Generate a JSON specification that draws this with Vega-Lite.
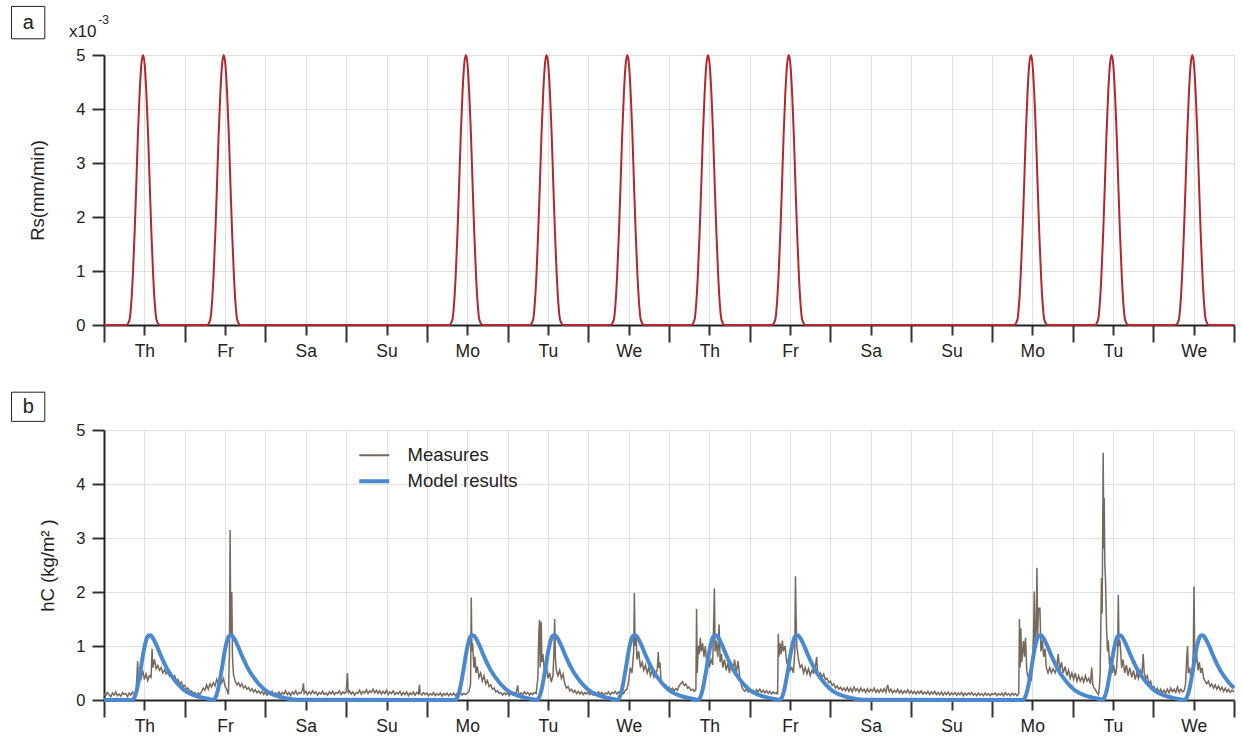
{
  "$schema": "https://vega.github.io/schema/vega-lite/v6.json",
  "padding": {"left": 11, "top": 5, "right": 5, "bottom": 5},
  "bounds": "flush",
  "spacing": 105,
  "config": {
    "font": "Liberation Sans",
    "view": {"stroke": null},
    "axis": {
      "gridColor": "#e0e0e0",
      "gridWidth": 1,
      "domainColor": "#222222",
      "domainWidth": 2,
      "tickColor": "#333333",
      "tickWidth": 2,
      "labelColor": "#222222",
      "titleColor": "#222222",
      "titleFontWeight": "normal",
      "titleFontSize": 18.5
    }
  },
  "resolve": {"scale": {"color": "independent"}, "legend": {"color": "independent"}},
  "datasets": {
    "rs": [
      {"t":0,"v":0},
      {"t":6.6,"v":0},{"t":7.6,"v":0.1},{"t":8.1,"v":0.4},{"t":8.6,"v":0.95},{"t":9.1,"v":1.7},{"t":9.6,"v":2.6},{"t":10.1,"v":3.55},{"t":10.6,"v":4.3},{"t":11.1,"v":4.82},{"t":11.6,"v":5},{"t":12.1,"v":4.82},{"t":12.6,"v":4.3},{"t":13.1,"v":3.55},{"t":13.6,"v":2.6},{"t":14.1,"v":1.7},{"t":14.6,"v":0.95},{"t":15.1,"v":0.4},{"t":15.6,"v":0.1},{"t":16.6,"v":0},
      {"t":30.6,"v":0},{"t":31.6,"v":0.1},{"t":32.1,"v":0.4},{"t":32.6,"v":0.95},{"t":33.1,"v":1.7},{"t":33.6,"v":2.6},{"t":34.1,"v":3.55},{"t":34.6,"v":4.3},{"t":35.1,"v":4.82},{"t":35.6,"v":5},{"t":36.1,"v":4.82},{"t":36.6,"v":4.3},{"t":37.1,"v":3.55},{"t":37.6,"v":2.6},{"t":38.1,"v":1.7},{"t":38.6,"v":0.95},{"t":39.1,"v":0.4},{"t":39.6,"v":0.1},{"t":40.6,"v":0},
      {"t":102.6,"v":0},{"t":103.6,"v":0.1},{"t":104.1,"v":0.4},{"t":104.6,"v":0.95},{"t":105.1,"v":1.7},{"t":105.6,"v":2.6},{"t":106.1,"v":3.55},{"t":106.6,"v":4.3},{"t":107.1,"v":4.82},{"t":107.6,"v":5},{"t":108.1,"v":4.82},{"t":108.6,"v":4.3},{"t":109.1,"v":3.55},{"t":109.6,"v":2.6},{"t":110.1,"v":1.7},{"t":110.6,"v":0.95},{"t":111.1,"v":0.4},{"t":111.6,"v":0.1},{"t":112.6,"v":0},
      {"t":126.6,"v":0},{"t":127.6,"v":0.1},{"t":128.1,"v":0.4},{"t":128.6,"v":0.95},{"t":129.1,"v":1.7},{"t":129.6,"v":2.6},{"t":130.1,"v":3.55},{"t":130.6,"v":4.3},{"t":131.1,"v":4.82},{"t":131.6,"v":5},{"t":132.1,"v":4.82},{"t":132.6,"v":4.3},{"t":133.1,"v":3.55},{"t":133.6,"v":2.6},{"t":134.1,"v":1.7},{"t":134.6,"v":0.95},{"t":135.1,"v":0.4},{"t":135.6,"v":0.1},{"t":136.6,"v":0},
      {"t":150.6,"v":0},{"t":151.6,"v":0.1},{"t":152.1,"v":0.4},{"t":152.6,"v":0.95},{"t":153.1,"v":1.7},{"t":153.6,"v":2.6},{"t":154.1,"v":3.55},{"t":154.6,"v":4.3},{"t":155.1,"v":4.82},{"t":155.6,"v":5},{"t":156.1,"v":4.82},{"t":156.6,"v":4.3},{"t":157.1,"v":3.55},{"t":157.6,"v":2.6},{"t":158.1,"v":1.7},{"t":158.6,"v":0.95},{"t":159.1,"v":0.4},{"t":159.6,"v":0.1},{"t":160.6,"v":0},
      {"t":174.6,"v":0},{"t":175.6,"v":0.1},{"t":176.1,"v":0.4},{"t":176.6,"v":0.95},{"t":177.1,"v":1.7},{"t":177.6,"v":2.6},{"t":178.1,"v":3.55},{"t":178.6,"v":4.3},{"t":179.1,"v":4.82},{"t":179.6,"v":5},{"t":180.1,"v":4.82},{"t":180.6,"v":4.3},{"t":181.1,"v":3.55},{"t":181.6,"v":2.6},{"t":182.1,"v":1.7},{"t":182.6,"v":0.95},{"t":183.1,"v":0.4},{"t":183.6,"v":0.1},{"t":184.6,"v":0},
      {"t":198.6,"v":0},{"t":199.6,"v":0.1},{"t":200.1,"v":0.4},{"t":200.6,"v":0.95},{"t":201.1,"v":1.7},{"t":201.6,"v":2.6},{"t":202.1,"v":3.55},{"t":202.6,"v":4.3},{"t":203.1,"v":4.82},{"t":203.6,"v":5},{"t":204.1,"v":4.82},{"t":204.6,"v":4.3},{"t":205.1,"v":3.55},{"t":205.6,"v":2.6},{"t":206.1,"v":1.7},{"t":206.6,"v":0.95},{"t":207.1,"v":0.4},{"t":207.6,"v":0.1},{"t":208.6,"v":0},
      {"t":270.6,"v":0},{"t":271.6,"v":0.1},{"t":272.1,"v":0.4},{"t":272.6,"v":0.95},{"t":273.1,"v":1.7},{"t":273.6,"v":2.6},{"t":274.1,"v":3.55},{"t":274.6,"v":4.3},{"t":275.1,"v":4.82},{"t":275.6,"v":5},{"t":276.1,"v":4.82},{"t":276.6,"v":4.3},{"t":277.1,"v":3.55},{"t":277.6,"v":2.6},{"t":278.1,"v":1.7},{"t":278.6,"v":0.95},{"t":279.1,"v":0.4},{"t":279.6,"v":0.1},{"t":280.6,"v":0},
      {"t":294.6,"v":0},{"t":295.6,"v":0.1},{"t":296.1,"v":0.4},{"t":296.6,"v":0.95},{"t":297.1,"v":1.7},{"t":297.6,"v":2.6},{"t":298.1,"v":3.55},{"t":298.6,"v":4.3},{"t":299.1,"v":4.82},{"t":299.6,"v":5},{"t":300.1,"v":4.82},{"t":300.6,"v":4.3},{"t":301.1,"v":3.55},{"t":301.6,"v":2.6},{"t":302.1,"v":1.7},{"t":302.6,"v":0.95},{"t":303.1,"v":0.4},{"t":303.6,"v":0.1},{"t":304.6,"v":0},
      {"t":318.6,"v":0},{"t":319.6,"v":0.1},{"t":320.1,"v":0.4},{"t":320.6,"v":0.95},{"t":321.1,"v":1.7},{"t":321.6,"v":2.6},{"t":322.1,"v":3.55},{"t":322.6,"v":4.3},{"t":323.1,"v":4.82},{"t":323.6,"v":5},{"t":324.1,"v":4.82},{"t":324.6,"v":4.3},{"t":325.1,"v":3.55},{"t":325.6,"v":2.6},{"t":326.1,"v":1.7},{"t":326.6,"v":0.95},{"t":327.1,"v":0.4},{"t":327.6,"v":0.1},{"t":328.6,"v":0},
      {"t":336,"v":0}
    ],
    "model": [
      {"t":0,"v":0},
      {"t":8.5,"v":0},{"t":9,"v":0.04},{"t":9.5,"v":0.12},{"t":10,"v":0.25},{"t":10.5,"v":0.42},{"t":11,"v":0.6},{"t":11.5,"v":0.8},{"t":12,"v":0.97},{"t":12.5,"v":1.1},{"t":13,"v":1.18},{"t":13.5,"v":1.2},{"t":14,"v":1.19},{"t":14.5,"v":1.15},{"t":15.5,"v":1.03},{"t":16.5,"v":0.88},{"t":17.5,"v":0.74},{"t":18.5,"v":0.61},{"t":19.5,"v":0.5},{"t":20.5,"v":0.41},{"t":21.5,"v":0.33},{"t":22.5,"v":0.26},{"t":23.5,"v":0.2},{"t":24.5,"v":0.155},{"t":25.5,"v":0.12},{"t":27.5,"v":0.07},{"t":29.5,"v":0.04},{"t":31.5,"v":0.015},
      {"t":32.6,"v":0},{"t":33.1,"v":0.04},{"t":33.6,"v":0.12},{"t":34.1,"v":0.25},{"t":34.6,"v":0.42},{"t":35.1,"v":0.6},{"t":35.6,"v":0.8},{"t":36.1,"v":0.97},{"t":36.6,"v":1.1},{"t":37.1,"v":1.18},{"t":37.6,"v":1.2},{"t":38.1,"v":1.19},{"t":38.6,"v":1.15},{"t":39.6,"v":1.03},{"t":40.6,"v":0.88},{"t":41.6,"v":0.74},{"t":42.6,"v":0.61},{"t":43.6,"v":0.5},{"t":44.6,"v":0.41},{"t":45.6,"v":0.33},{"t":46.6,"v":0.26},{"t":47.6,"v":0.2},{"t":48.6,"v":0.155},{"t":49.6,"v":0.12},{"t":51.6,"v":0.07},{"t":53.6,"v":0.04},{"t":55.6,"v":0.015},{"t":60,"v":0.005},
      {"t":104.5,"v":0},{"t":105,"v":0.04},{"t":105.5,"v":0.12},{"t":106,"v":0.25},{"t":106.5,"v":0.42},{"t":107,"v":0.6},{"t":107.5,"v":0.8},{"t":108,"v":0.97},{"t":108.5,"v":1.1},{"t":109,"v":1.18},{"t":109.5,"v":1.2},{"t":110,"v":1.19},{"t":110.5,"v":1.15},{"t":111.5,"v":1.03},{"t":112.5,"v":0.88},{"t":113.5,"v":0.74},{"t":114.5,"v":0.61},{"t":115.5,"v":0.5},{"t":116.5,"v":0.41},{"t":117.5,"v":0.33},{"t":118.5,"v":0.26},{"t":119.5,"v":0.2},{"t":120.5,"v":0.155},{"t":121.5,"v":0.12},{"t":123.5,"v":0.07},{"t":125.5,"v":0.04},{"t":127.5,"v":0.015},
      {"t":128.8,"v":0},{"t":129.3,"v":0.04},{"t":129.8,"v":0.12},{"t":130.3,"v":0.25},{"t":130.8,"v":0.42},{"t":131.3,"v":0.6},{"t":131.8,"v":0.8},{"t":132.3,"v":0.97},{"t":132.8,"v":1.1},{"t":133.3,"v":1.18},{"t":133.8,"v":1.2},{"t":134.3,"v":1.19},{"t":134.8,"v":1.15},{"t":135.8,"v":1.03},{"t":136.8,"v":0.88},{"t":137.8,"v":0.74},{"t":138.8,"v":0.61},{"t":139.8,"v":0.5},{"t":140.8,"v":0.41},{"t":141.8,"v":0.33},{"t":142.8,"v":0.26},{"t":143.8,"v":0.2},{"t":144.8,"v":0.155},{"t":145.8,"v":0.12},{"t":147.8,"v":0.07},{"t":149.8,"v":0.04},{"t":151.8,"v":0.015},
      {"t":152.7,"v":0},{"t":153.2,"v":0.04},{"t":153.7,"v":0.12},{"t":154.2,"v":0.25},{"t":154.7,"v":0.42},{"t":155.2,"v":0.6},{"t":155.7,"v":0.8},{"t":156.2,"v":0.97},{"t":156.7,"v":1.1},{"t":157.2,"v":1.18},{"t":157.7,"v":1.2},{"t":158.2,"v":1.19},{"t":158.7,"v":1.15},{"t":159.7,"v":1.03},{"t":160.7,"v":0.88},{"t":161.7,"v":0.74},{"t":162.7,"v":0.61},{"t":163.7,"v":0.5},{"t":164.7,"v":0.41},{"t":165.7,"v":0.33},{"t":166.7,"v":0.26},{"t":167.7,"v":0.2},{"t":168.7,"v":0.155},{"t":169.7,"v":0.12},{"t":171.7,"v":0.07},{"t":173.7,"v":0.04},{"t":175.7,"v":0.015},
      {"t":176.7,"v":0},{"t":177.2,"v":0.04},{"t":177.7,"v":0.12},{"t":178.2,"v":0.25},{"t":178.7,"v":0.42},{"t":179.2,"v":0.6},{"t":179.7,"v":0.8},{"t":180.2,"v":0.97},{"t":180.7,"v":1.1},{"t":181.2,"v":1.18},{"t":181.7,"v":1.2},{"t":182.2,"v":1.19},{"t":182.7,"v":1.15},{"t":183.7,"v":1.03},{"t":184.7,"v":0.88},{"t":185.7,"v":0.74},{"t":186.7,"v":0.61},{"t":187.7,"v":0.5},{"t":188.7,"v":0.41},{"t":189.7,"v":0.33},{"t":190.7,"v":0.26},{"t":191.7,"v":0.2},{"t":192.7,"v":0.155},{"t":193.7,"v":0.12},{"t":195.7,"v":0.07},{"t":197.7,"v":0.04},{"t":199.7,"v":0.015},
      {"t":201,"v":0},{"t":201.5,"v":0.04},{"t":202,"v":0.12},{"t":202.5,"v":0.25},{"t":203,"v":0.42},{"t":203.5,"v":0.6},{"t":204,"v":0.8},{"t":204.5,"v":0.97},{"t":205,"v":1.1},{"t":205.5,"v":1.18},{"t":206,"v":1.2},{"t":206.5,"v":1.19},{"t":207,"v":1.15},{"t":208,"v":1.03},{"t":209,"v":0.88},{"t":210,"v":0.74},{"t":211,"v":0.61},{"t":212,"v":0.5},{"t":213,"v":0.41},{"t":214,"v":0.33},{"t":215,"v":0.26},{"t":216,"v":0.2},{"t":217,"v":0.155},{"t":218,"v":0.12},{"t":220,"v":0.07},{"t":222,"v":0.04},{"t":224,"v":0.015},{"t":228,"v":0.005},
      {"t":273.3,"v":0},{"t":273.8,"v":0.04},{"t":274.3,"v":0.12},{"t":274.8,"v":0.25},{"t":275.3,"v":0.42},{"t":275.8,"v":0.6},{"t":276.3,"v":0.8},{"t":276.8,"v":0.97},{"t":277.3,"v":1.1},{"t":277.8,"v":1.18},{"t":278.3,"v":1.2},{"t":278.8,"v":1.19},{"t":279.3,"v":1.15},{"t":280.3,"v":1.03},{"t":281.3,"v":0.88},{"t":282.3,"v":0.74},{"t":283.3,"v":0.61},{"t":284.3,"v":0.5},{"t":285.3,"v":0.41},{"t":286.3,"v":0.33},{"t":287.3,"v":0.26},{"t":288.3,"v":0.2},{"t":289.3,"v":0.155},{"t":290.3,"v":0.12},{"t":292.3,"v":0.07},{"t":294.3,"v":0.04},{"t":296.3,"v":0.015},
      {"t":296.9,"v":0},{"t":297.4,"v":0.04},{"t":297.9,"v":0.12},{"t":298.4,"v":0.25},{"t":298.9,"v":0.42},{"t":299.4,"v":0.6},{"t":299.9,"v":0.8},{"t":300.4,"v":0.97},{"t":300.9,"v":1.1},{"t":301.4,"v":1.18},{"t":301.9,"v":1.2},{"t":302.4,"v":1.19},{"t":302.9,"v":1.15},{"t":303.9,"v":1.03},{"t":304.9,"v":0.88},{"t":305.9,"v":0.74},{"t":306.9,"v":0.61},{"t":307.9,"v":0.5},{"t":308.9,"v":0.41},{"t":309.9,"v":0.33},{"t":310.9,"v":0.26},{"t":311.9,"v":0.2},{"t":312.9,"v":0.155},{"t":313.9,"v":0.12},{"t":315.9,"v":0.07},{"t":317.9,"v":0.04},{"t":319.9,"v":0.015},
      {"t":321.4,"v":0},{"t":321.9,"v":0.04},{"t":322.4,"v":0.12},{"t":322.9,"v":0.25},{"t":323.4,"v":0.42},{"t":323.9,"v":0.6},{"t":324.4,"v":0.8},{"t":324.9,"v":0.97},{"t":325.4,"v":1.1},{"t":325.9,"v":1.18},{"t":326.4,"v":1.2},{"t":326.9,"v":1.19},{"t":327.4,"v":1.15},{"t":328.4,"v":1.03},{"t":329.4,"v":0.88},{"t":330.4,"v":0.74},{"t":331.4,"v":0.61},{"t":332.4,"v":0.5},{"t":333.4,"v":0.41},{"t":334.4,"v":0.33},{"t":335.4,"v":0.26},{"t":336,"v":0.22}
    ],
    "meas": [
      {"t":0,"v":0.12},{"t":0.5,"v":0.08},{"t":1,"v":0.14},{"t":1.5,"v":0.1},{"t":2,"v":0.06},{"t":2.5,"v":0.13},{"t":3,"v":0.09},{"t":3.5,"v":0.15},{"t":4,"v":0.08},{"t":4.5,"v":0.11},{"t":5,"v":0.07},{"t":5.5,"v":0.14},{"t":6,"v":0.1},{"t":6.5,"v":0.12},{"t":7,"v":0.06},{"t":7.5,"v":0.13},{"t":8,"v":0.09},{"t":8.5,"v":0.15},{"t":9,"v":0.1},{"t":9.5,"v":0.12},
      {"t":9.8,"v":0.45},{"t":10,"v":0.72},{"t":10.2,"v":0.35},{"t":10.5,"v":0.5},{"t":11,"v":0.4},{"t":11.5,"v":0.55},{"t":12,"v":0.38},{"t":12.5,"v":0.48},{"t":13,"v":0.36},{"t":13.5,"v":0.45},{"t":14,"v":0.42},{"t":14.3,"v":0.95},{"t":14.5,"v":0.6},{"t":15,"v":0.75},{"t":15.5,"v":0.58},{"t":16,"v":0.64},{"t":16.5,"v":0.55},{"t":17,"v":0.6},{"t":17.5,"v":0.5},{"t":18,"v":0.56},{"t":18.5,"v":0.48},{"t":19,"v":0.52},{"t":19.5,"v":0.44},{"t":20,"v":0.48},{"t":20.5,"v":0.4},{"t":21,"v":0.45},{"t":21.5,"v":0.36},{"t":22,"v":0.38},{"t":22.5,"v":0.3},{"t":23,"v":0.33},{"t":23.5,"v":0.25},{"t":24,"v":0.27},{"t":24.5,"v":0.2},{"t":25,"v":0.22},{"t":25.5,"v":0.15},{"t":26,"v":0.17},{"t":26.5,"v":0.12},{"t":27,"v":0.14},{"t":27.5,"v":0.09},{"t":28,"v":0.13},{"t":28.5,"v":0.1},{"t":29,"v":0.15},{"t":29.5,"v":0.22},{"t":30,"v":0.18},{"t":30.5,"v":0.28},{"t":31,"v":0.2},{"t":31.5,"v":0.3},{"t":32,"v":0.24},{"t":32.5,"v":0.32},{"t":33,"v":0.26},{"t":33.5,"v":0.38},{"t":34,"v":0.3},{"t":34.5,"v":0.42},{"t":35,"v":0.32},{"t":35.5,"v":0.4},{"t":36,"v":0.25},{"t":36.5,"v":0.2},{"t":37,"v":0.1},{"t":37.3,"v":0.9},{"t":37.5,"v":3.15},{"t":37.7,"v":1.2},{"t":38,"v":2.0},{"t":38.2,"v":0.8},{"t":38.5,"v":0.47},{"t":39,"v":0.35},{"t":39.5,"v":0.28},{"t":40,"v":0.32},{"t":40.5,"v":0.25},{"t":41,"v":0.3},{"t":41.5,"v":0.22},{"t":42,"v":0.26},{"t":42.5,"v":0.2},{"t":43,"v":0.23},{"t":43.5,"v":0.17},{"t":44,"v":0.21},{"t":44.5,"v":0.15},{"t":45,"v":0.19},{"t":45.5,"v":0.13},{"t":46,"v":0.17},{"t":46.5,"v":0.12},{"t":47,"v":0.16},{"t":47.5,"v":0.1},{"t":48,"v":0.15},
      {"t":48.5,"v":0.09},{"t":49,"v":0.14},{"t":49.5,"v":0.1},{"t":50,"v":0.16},{"t":50.5,"v":0.08},{"t":51,"v":0.13},{"t":51.5,"v":0.1},{"t":52,"v":0.15},{"t":52.5,"v":0.09},{"t":53,"v":0.14},{"t":53.5,"v":0.11},{"t":54,"v":0.17},{"t":54.5,"v":0.1},{"t":55,"v":0.14},{"t":55.5,"v":0.08},{"t":56,"v":0.15},{"t":56.5,"v":0.11},{"t":57,"v":0.17},{"t":57.5,"v":0.1},{"t":58,"v":0.14},{"t":58.5,"v":0.12},{"t":59,"v":0.18},{"t":59.3,"v":0.31},{"t":59.5,"v":0.12},{"t":60,"v":0.16},{"t":60.5,"v":0.1},{"t":61,"v":0.15},{"t":61.5,"v":0.11},{"t":62,"v":0.17},{"t":62.5,"v":0.12},{"t":63,"v":0.15},{"t":63.5,"v":0.09},{"t":64,"v":0.14},{"t":64.5,"v":0.11},{"t":65,"v":0.16},{"t":65.5,"v":0.1},{"t":66,"v":0.13},{"t":66.5,"v":0.09},{"t":67,"v":0.15},{"t":67.5,"v":0.11},{"t":68,"v":0.16},{"t":68.5,"v":0.1},{"t":69,"v":0.14},{"t":69.5,"v":0.12},{"t":70,"v":0.17},{"t":70.5,"v":0.1},{"t":71,"v":0.15},{"t":71.5,"v":0.12},{"t":72,"v":0.16},{"t":72.4,"v":0.5},{"t":72.6,"v":0.12},{"t":73,"v":0.17},{"t":73.5,"v":0.11},{"t":74,"v":0.15},{"t":74.5,"v":0.09},{"t":75,"v":0.14},{"t":75.5,"v":0.12},{"t":76,"v":0.18},{"t":76.5,"v":0.11},{"t":77,"v":0.16},{"t":77.5,"v":0.13},{"t":78,"v":0.19},{"t":78.5,"v":0.12},{"t":79,"v":0.17},{"t":79.5,"v":0.14},{"t":80,"v":0.2},{"t":80.5,"v":0.13},{"t":81,"v":0.18},{"t":81.5,"v":0.12},{"t":82,"v":0.17},{"t":82.5,"v":0.11},{"t":83,"v":0.16},{"t":83.5,"v":0.12},{"t":84,"v":0.18},{"t":84.5,"v":0.1},{"t":85,"v":0.15},{"t":85.5,"v":0.12},{"t":86,"v":0.17},{"t":86.5,"v":0.1},{"t":87,"v":0.14},{"t":87.5,"v":0.11},{"t":88,"v":0.16},{"t":88.5,"v":0.09},{"t":89,"v":0.14},{"t":89.5,"v":0.1},{"t":90,"v":0.15},{"t":90.5,"v":0.08},{"t":91,"v":0.13},{"t":91.5,"v":0.1},{"t":92,"v":0.15},{"t":92.5,"v":0.09},{"t":93,"v":0.14},{"t":93.5,"v":0.11},{"t":93.8,"v":0.28},{"t":94,"v":0.12},{"t":94.5,"v":0.09},{"t":95,"v":0.14},{"t":95.5,"v":0.1},{"t":96,"v":0.13},{"t":96.5,"v":0.08},{"t":97,"v":0.12},{"t":97.5,"v":0.09},{"t":98,"v":0.14},{"t":98.5,"v":0.08},{"t":99,"v":0.12},{"t":99.5,"v":0.09},{"t":100,"v":0.13},{"t":100.5,"v":0.07},{"t":101,"v":0.12},{"t":101.5,"v":0.09},{"t":102,"v":0.13},{"t":102.5,"v":0.08},{"t":103,"v":0.12},{"t":103.5,"v":0.09},{"t":104,"v":0.13},{"t":104.5,"v":0.08},{"t":105,"v":0.12},{"t":105.5,"v":0.1},{"t":106,"v":0.14},{"t":106.5,"v":0.09},{"t":107,"v":0.12},{"t":107.5,"v":0.1},{"t":108,"v":0.13},{"t":108.5,"v":0.15},
      {"t":109,"v":0.3},{"t":109.2,"v":1.9},{"t":109.4,"v":0.9},{"t":109.6,"v":1.05},{"t":110,"v":0.6},{"t":110.3,"v":0.8},{"t":110.6,"v":0.5},{"t":111,"v":0.62},{"t":111.5,"v":0.42},{"t":112,"v":0.5},{"t":112.5,"v":0.35},{"t":113,"v":0.45},{"t":113.5,"v":0.3},{"t":114,"v":0.36},{"t":114.5,"v":0.25},{"t":115,"v":0.28},{"t":115.5,"v":0.2},{"t":116,"v":0.22},{"t":116.5,"v":0.15},{"t":117,"v":0.17},{"t":117.5,"v":0.12},{"t":118,"v":0.14},{"t":118.5,"v":0.09},{"t":119,"v":0.13},{"t":119.5,"v":0.1},{"t":120,"v":0.14},{"t":120.5,"v":0.08},{"t":121,"v":0.13},{"t":121.5,"v":0.1},{"t":122,"v":0.14},{"t":122.5,"v":0.11},{"t":123,"v":0.27},{"t":123.3,"v":0.12},{"t":123.5,"v":0.09},{"t":124,"v":0.13},{"t":124.5,"v":0.1},{"t":125,"v":0.15},{"t":125.5,"v":0.11},{"t":126,"v":0.14},{"t":126.5,"v":0.09},{"t":127,"v":0.13},{"t":127.5,"v":0.1},{"t":128,"v":0.14},{"t":128.5,"v":0.12},
      {"t":129,"v":0.4},{"t":129.3,"v":1.25},{"t":129.5,"v":1.48},{"t":129.7,"v":0.6},{"t":130,"v":1.45},{"t":130.2,"v":0.7},{"t":130.5,"v":0.85},{"t":131,"v":0.5},{"t":131.5,"v":0.65},{"t":132,"v":0.4},{"t":132.5,"v":0.5},{"t":133,"v":0.33},{"t":133.5,"v":0.45},{"t":133.8,"v":0.9},{"t":134,"v":1.5},{"t":134.2,"v":0.8},{"t":134.5,"v":0.55},{"t":135,"v":0.45},{"t":135.5,"v":0.55},{"t":136,"v":0.4},{"t":136.5,"v":0.48},{"t":137,"v":0.3},{"t":137.5,"v":0.22},{"t":138,"v":0.25},{"t":138.5,"v":0.17},{"t":139,"v":0.2},{"t":139.5,"v":0.14},{"t":140,"v":0.18},{"t":140.5,"v":0.12},{"t":141,"v":0.16},{"t":141.5,"v":0.11},{"t":142,"v":0.15},{"t":142.5,"v":0.1},{"t":143,"v":0.14},{"t":143.5,"v":0.11},{"t":144,"v":0.15},{"t":144.5,"v":0.1},{"t":145,"v":0.13},{"t":145.5,"v":0.09},{"t":146,"v":0.14},{"t":146.5,"v":0.1},{"t":147,"v":0.15},{"t":147.5,"v":0.11},{"t":148,"v":0.14},{"t":148.5,"v":0.09},{"t":149,"v":0.13},{"t":149.5,"v":0.11},{"t":150,"v":0.15},{"t":150.5,"v":0.1},{"t":151,"v":0.14},{"t":151.5,"v":0.12},{"t":152,"v":0.16},{"t":152.5,"v":0.11},{"t":153,"v":0.15},{"t":153.5,"v":0.12},{"t":154,"v":0.16},{"t":154.5,"v":0.12},{"t":155,"v":0.18},{"t":155.5,"v":0.2},
      {"t":156,"v":0.35},{"t":156.5,"v":0.6},{"t":157,"v":0.5},{"t":157.5,"v":0.9},{"t":157.7,"v":1.98},{"t":157.9,"v":1.0},{"t":158.2,"v":1.15},{"t":158.5,"v":0.75},{"t":159,"v":0.9},{"t":159.5,"v":0.6},{"t":160,"v":0.7},{"t":160.5,"v":0.55},{"t":161,"v":0.65},{"t":161.5,"v":0.5},{"t":162,"v":0.6},{"t":162.5,"v":0.45},{"t":163,"v":0.55},{"t":163.5,"v":0.42},{"t":164,"v":0.5},{"t":164.5,"v":0.55},{"t":164.8,"v":0.89},{"t":165,"v":0.6},{"t":165.3,"v":0.7},{"t":165.6,"v":0.4},{"t":166,"v":0.3},{"t":166.5,"v":0.25},{"t":167,"v":0.28},{"t":167.5,"v":0.2},{"t":168,"v":0.24},{"t":168.5,"v":0.18},{"t":169,"v":0.22},{"t":169.5,"v":0.17},{"t":170,"v":0.21},{"t":170.5,"v":0.18},{"t":171,"v":0.26},{"t":171.5,"v":0.3},{"t":172,"v":0.34},{"t":172.5,"v":0.27},{"t":173,"v":0.3},{"t":173.5,"v":0.22},{"t":174,"v":0.24},{"t":174.5,"v":0.18},{"t":175,"v":0.2},{"t":175.5,"v":0.16},{"t":176,"v":0.19},
      {"t":176.2,"v":1.69},{"t":176.4,"v":0.5},{"t":176.7,"v":1.0},{"t":177,"v":0.85},{"t":177.3,"v":1.15},{"t":177.6,"v":0.9},{"t":178,"v":1.05},{"t":178.4,"v":0.8},{"t":178.8,"v":1.0},{"t":179.2,"v":0.7},{"t":179.6,"v":0.85},{"t":180,"v":0.6},{"t":180.5,"v":0.75},{"t":181,"v":0.65},{"t":181.5,"v":2.07},{"t":181.7,"v":0.9},{"t":182,"v":1.1},{"t":182.5,"v":0.8},{"t":182.9,"v":1.4},{"t":183.2,"v":0.7},{"t":183.6,"v":0.85},{"t":184,"v":0.6},{"t":184.5,"v":0.75},{"t":185,"v":0.55},{"t":185.5,"v":0.68},{"t":186,"v":0.5},{"t":186.5,"v":0.7},{"t":187,"v":0.55},{"t":187.5,"v":0.75},{"t":188,"v":0.5},{"t":188.5,"v":0.72},{"t":189,"v":0.45},{"t":189.6,"v":0.25},{"t":190,"v":0.2},{"t":190.5,"v":0.16},{"t":191,"v":0.2},{"t":191.5,"v":0.15},{"t":192,"v":0.19},{"t":192.5,"v":0.14},{"t":193,"v":0.18},{"t":193.5,"v":0.13},{"t":194,"v":0.19},{"t":194.5,"v":0.15},{"t":195,"v":0.2},{"t":195.5,"v":0.14},{"t":196,"v":0.18},{"t":196.5,"v":0.13},{"t":197,"v":0.17},{"t":197.5,"v":0.12},{"t":198,"v":0.16},{"t":198.5,"v":0.11},{"t":199,"v":0.15},{"t":199.5,"v":0.12},{"t":200,"v":0.14},{"t":200.3,"v":0.1},
      {"t":200.5,"v":1.22},{"t":200.7,"v":0.8},{"t":201,"v":1.05},{"t":201.3,"v":0.85},{"t":201.7,"v":1.1},{"t":202,"v":0.9},{"t":202.5,"v":1.0},{"t":203,"v":0.7},{"t":203.5,"v":0.75},{"t":204,"v":0.55},{"t":204.5,"v":0.6},{"t":205,"v":0.5},{"t":205.4,"v":0.9},{"t":205.6,"v":2.29},{"t":205.8,"v":1.5},{"t":206,"v":1.0},{"t":206.5,"v":0.75},{"t":207,"v":0.6},{"t":207.5,"v":0.65},{"t":208,"v":0.5},{"t":208.5,"v":0.6},{"t":209,"v":0.48},{"t":209.5,"v":0.58},{"t":210,"v":0.45},{"t":210.5,"v":0.55},{"t":211,"v":0.5},{"t":211.5,"v":0.6},{"t":211.9,"v":0.8},{"t":212.2,"v":0.5},{"t":212.5,"v":0.45},{"t":213,"v":0.5},{"t":213.5,"v":0.42},{"t":214,"v":0.48},{"t":214.5,"v":0.38},{"t":215,"v":0.4},{"t":215.5,"v":0.32},{"t":216,"v":0.35},{"t":216.5,"v":0.27},{"t":217,"v":0.3},{"t":217.5,"v":0.22},{"t":218,"v":0.26},{"t":218.5,"v":0.2},{"t":219,"v":0.24},{"t":219.5,"v":0.18},{"t":220,"v":0.22},
      {"t":220.5,"v":0.17},{"t":221,"v":0.23},{"t":221.5,"v":0.16},{"t":222,"v":0.22},{"t":222.5,"v":0.15},{"t":223,"v":0.24},{"t":223.5,"v":0.17},{"t":224,"v":0.21},{"t":224.5,"v":0.15},{"t":225,"v":0.22},{"t":225.5,"v":0.16},{"t":226,"v":0.2},{"t":226.5,"v":0.14},{"t":227,"v":0.21},{"t":227.5,"v":0.15},{"t":228,"v":0.2},{"t":228.5,"v":0.16},{"t":229,"v":0.22},{"t":229.5,"v":0.14},{"t":230,"v":0.19},{"t":230.5,"v":0.14},{"t":231,"v":0.2},{"t":231.5,"v":0.15},{"t":232,"v":0.21},{"t":232.5,"v":0.14},{"t":233,"v":0.28},{"t":233.5,"v":0.15},{"t":234,"v":0.2},{"t":234.5,"v":0.13},{"t":235,"v":0.18},{"t":235.5,"v":0.14},{"t":236,"v":0.2},{"t":236.5,"v":0.13},{"t":237,"v":0.18},{"t":237.5,"v":0.12},{"t":238,"v":0.17},{"t":238.5,"v":0.13},{"t":239,"v":0.19},{"t":239.5,"v":0.12},{"t":240,"v":0.17},{"t":240.5,"v":0.12},{"t":241,"v":0.16},{"t":241.5,"v":0.11},{"t":242,"v":0.16},{"t":242.5,"v":0.12},{"t":243,"v":0.17},{"t":243.5,"v":0.11},{"t":244,"v":0.15},{"t":244.5,"v":0.11},{"t":245,"v":0.16},{"t":245.5,"v":0.1},{"t":246,"v":0.15},{"t":246.5,"v":0.11},{"t":247,"v":0.16},{"t":247.5,"v":0.1},{"t":248,"v":0.14},{"t":248.5,"v":0.1},{"t":249,"v":0.15},{"t":249.5,"v":0.09},{"t":250,"v":0.14},{"t":250.5,"v":0.1},{"t":251,"v":0.15},{"t":251.5,"v":0.09},{"t":252,"v":0.13},{"t":252.5,"v":0.1},{"t":253,"v":0.14},{"t":253.5,"v":0.09},{"t":254,"v":0.13},{"t":254.5,"v":0.1},{"t":255,"v":0.14},{"t":255.5,"v":0.08},{"t":256,"v":0.13},{"t":256.5,"v":0.09},{"t":257,"v":0.13},{"t":257.5,"v":0.1},{"t":258,"v":0.14},{"t":258.5,"v":0.09},{"t":259,"v":0.12},{"t":259.5,"v":0.08},{"t":260,"v":0.13},{"t":260.5,"v":0.09},{"t":261,"v":0.12},{"t":261.5,"v":0.08},{"t":262,"v":0.13},{"t":262.5,"v":0.09},{"t":263,"v":0.12},{"t":263.5,"v":0.08},{"t":264,"v":0.12},{"t":264.5,"v":0.1},{"t":265,"v":0.13},{"t":265.5,"v":0.08},{"t":266,"v":0.12},{"t":266.5,"v":0.09},{"t":267,"v":0.13},{"t":267.5,"v":0.08},{"t":268,"v":0.14},{"t":268.5,"v":0.09},{"t":269,"v":0.12},{"t":269.5,"v":0.08},{"t":270,"v":0.13},{"t":270.5,"v":0.09},{"t":271,"v":0.12},{"t":271.5,"v":0.08},{"t":272,"v":0.12},
      {"t":272.2,"v":1.5},{"t":272.4,"v":0.6},{"t":272.6,"v":1.33},{"t":272.9,"v":0.7},{"t":273.4,"v":1.09},{"t":273.7,"v":0.8},{"t":274,"v":1.15},{"t":274.4,"v":0.53},{"t":274.9,"v":0.4},{"t":275.3,"v":0.5},{"t":275.7,"v":0.35},{"t":276,"v":0.6},{"t":276.4,"v":1.2},{"t":276.6,"v":2.01},{"t":276.9,"v":1.0},{"t":277.2,"v":1.4},{"t":277.4,"v":2.45},{"t":277.6,"v":1.2},{"t":277.9,"v":1.7},{"t":278.3,"v":1.7},{"t":278.6,"v":0.9},{"t":279,"v":1.1},{"t":279.4,"v":0.8},{"t":279.8,"v":0.95},{"t":280.2,"v":0.6},{"t":280.7,"v":0.5},{"t":281.2,"v":0.6},{"t":281.7,"v":0.5},{"t":282.2,"v":0.58},{"t":282.8,"v":0.5},{"t":283.3,"v":0.6},{"t":283.7,"v":0.85},{"t":284.2,"v":0.55},{"t":284.7,"v":0.7},{"t":285.2,"v":0.5},{"t":285.8,"v":0.62},{"t":286.3,"v":0.45},{"t":286.8,"v":0.55},{"t":287.3,"v":0.4},{"t":287.8,"v":0.5},{"t":288.3,"v":0.38},{"t":288.8,"v":0.5},{"t":289.3,"v":0.35},{"t":289.8,"v":0.45},{"t":290.3,"v":0.35},{"t":290.8,"v":0.42},{"t":291.3,"v":0.33},{"t":291.8,"v":0.45},{"t":292.3,"v":0.35},{"t":292.8,"v":0.4},{"t":293.3,"v":0.3},{"t":293.7,"v":0.6},{"t":294,"v":0.3},{"t":294.4,"v":0.22},{"t":294.7,"v":0.2},{"t":295.2,"v":0.14},{"t":295.7,"v":0.1},
      {"t":296,"v":0.25},{"t":296.2,"v":0.5},{"t":296.6,"v":2.26},{"t":296.8,"v":1.6},{"t":297.1,"v":4.58},{"t":297.3,"v":2.8},{"t":297.4,"v":3.74},{"t":297.6,"v":2.5},{"t":297.8,"v":2.2},{"t":298.1,"v":1.33},{"t":298.4,"v":0.9},{"t":298.6,"v":1.1},{"t":299,"v":0.65},{"t":299.4,"v":0.8},{"t":299.8,"v":0.5},{"t":300.2,"v":0.65},{"t":300.7,"v":0.45},{"t":301.1,"v":0.6},{"t":301.4,"v":0.9},{"t":301.6,"v":1.95},{"t":301.8,"v":1.0},{"t":302.1,"v":1.1},{"t":302.6,"v":0.6},{"t":303,"v":0.75},{"t":303.5,"v":0.5},{"t":304,"v":0.65},{"t":304.5,"v":0.45},{"t":305,"v":0.6},{"t":305.6,"v":0.42},{"t":306.1,"v":0.55},{"t":306.6,"v":0.38},{"t":307.1,"v":0.5},{"t":307.6,"v":0.4},{"t":308.1,"v":0.55},{"t":308.6,"v":0.45},{"t":309,"v":0.85},{"t":309.3,"v":0.5},{"t":309.8,"v":0.4},{"t":310.2,"v":0.45},{"t":310.7,"v":0.3},{"t":311.2,"v":0.35},{"t":311.7,"v":0.22},{"t":312.2,"v":0.25},{"t":312.7,"v":0.17},{"t":313.2,"v":0.22},{"t":313.7,"v":0.14},{"t":314.2,"v":0.2},{"t":314.7,"v":0.13},{"t":315.2,"v":0.18},{"t":315.7,"v":0.12},{"t":316.2,"v":0.2},{"t":316.7,"v":0.13},{"t":317.2,"v":0.22},{"t":317.7,"v":0.15},{"t":318.2,"v":0.2},{"t":318.7,"v":0.14},{"t":319.2,"v":0.24},{"t":319.7,"v":0.14},{"t":320.2,"v":0.2},{"t":320.7,"v":0.15},{"t":321.2,"v":0.18},
      {"t":321.6,"v":0.3},{"t":322,"v":0.84},{"t":322.2,"v":1.0},{"t":322.4,"v":0.5},{"t":322.8,"v":0.6},{"t":323.2,"v":0.4},{"t":323.6,"v":0.5},{"t":323.9,"v":0.9},{"t":324.1,"v":2.1},{"t":324.3,"v":1.0},{"t":324.6,"v":0.7},{"t":324.9,"v":0.85},{"t":325.3,"v":0.55},{"t":325.7,"v":0.7},{"t":326.1,"v":0.5},{"t":326.5,"v":0.6},{"t":327,"v":0.4},{"t":327.4,"v":0.35},{"t":327.9,"v":0.3},{"t":328.4,"v":0.35},{"t":328.9,"v":0.25},{"t":329.4,"v":0.3},{"t":329.9,"v":0.22},{"t":330.4,"v":0.28},{"t":330.9,"v":0.2},{"t":331.4,"v":0.26},{"t":331.9,"v":0.18},{"t":332.4,"v":0.24},{"t":332.9,"v":0.16},{"t":333.4,"v":0.22},{"t":333.9,"v":0.15},{"t":334.4,"v":0.2},{"t":334.9,"v":0.14},{"t":335.4,"v":0.18},{"t":336,"v":0.15}
    ]
  },
  "vconcat": [
    {
      "width": 1130,
      "height": 270,
      "layer": [
        {
          "data": {"name": "rs"},
          "mark": {"type": "line", "color": "#b3262c", "strokeWidth": 2, "interpolate": "monotone"},
          "encoding": {
            "x": {
              "field": "t", "type": "quantitative",
              "scale": {"domain": [0, 336], "nice": false, "zero": false},
              "axis": {
                "title": null,
                "values": [0,12,24,36,48,60,72,84,96,108,120,132,144,156,168,180,192,204,216,228,240,252,264,276,288,300,312,324,336],
                "labelExpr": "datum.value % 24 == 12 ? ['Th','Fr','Sa','Su','Mo','Tu','We','Th','Fr','Sa','Su','Mo','Tu','We'][floor(datum.value / 24)] : ''",
                "tickSize": {"condition": {"test": "datum.value % 24 == 0", "value": 17}, "value": 10},
                "labelFontSize": 17.5,
                "labelPadding": 7,
                "labelOverlap": false,
                "labelFlush": false,
                "grid": true
              }
            },
            "y": {
              "field": "v", "type": "quantitative",
              "scale": {"domain": [0, 5], "nice": false},
              "axis": {
                "title": "Rs(mm/min)",
                "titlePadding": 28,
                "values": [0,0.5,1,1.5,2,2.5,3,3.5,4,4.5,5],
                "labelExpr": "datum.value % 1 == 0 ? datum.label : ''",
                "tickSize": 12,
                "labelPadding": 7,
                "labelFontSize": 16.5,
                "labelOverlap": false,
                "labelFlush": false,
                "grid": true
              }
            }
          }
        },
        {
          "data": {"values": [{}]},
          "mark": {"type": "rect", "fill": "white", "stroke": "#222222", "strokeWidth": 1},
          "encoding": {
            "x": {"datum": -27.5, "type": "quantitative"},
            "x2": {"datum": -17.6},
            "y": {"datum": 5.9, "type": "quantitative"},
            "y2": {"datum": 5.3}
          }
        },
        {
          "data": {"values": [{}]},
          "mark": {"type": "text", "fontSize": 20, "color": "#222222", "align": "center", "baseline": "middle"},
          "encoding": {
            "x": {"datum": -22.5, "type": "quantitative"},
            "y": {"datum": 5.6, "type": "quantitative"},
            "text": {"value": "a"}
          }
        },
        {
          "data": {"values": [{}]},
          "mark": {"type": "text", "fontSize": 17, "color": "#222222", "align": "center", "baseline": "middle"},
          "encoding": {
            "x": {"datum": -6.3, "type": "quantitative"},
            "y": {"datum": 5.42, "type": "quantitative"},
            "text": {"value": "x10"}
          }
        },
        {
          "data": {"values": [{}]},
          "mark": {"type": "text", "fontSize": 12, "color": "#222222", "align": "center", "baseline": "middle"},
          "encoding": {
            "x": {"datum": -0.1, "type": "quantitative"},
            "y": {"datum": 5.64, "type": "quantitative"},
            "text": {"value": "-3"}
          }
        }
      ]
    },
    {
      "width": 1130,
      "height": 270,
      "layer": [
        {
          "data": {"name": "meas"},
          "mark": {"type": "line", "strokeWidth": 1.5},
          "encoding": {
            "x": {
              "field": "t", "type": "quantitative",
              "scale": {"domain": [0, 336], "nice": false, "zero": false},
              "axis": {
                "title": null,
                "values": [0,12,24,36,48,60,72,84,96,108,120,132,144,156,168,180,192,204,216,228,240,252,264,276,288,300,312,324,336],
                "labelExpr": "datum.value % 24 == 12 ? ['Th','Fr','Sa','Su','Mo','Tu','We','Th','Fr','Sa','Su','Mo','Tu','We'][floor(datum.value / 24)] : ''",
                "tickSize": {"condition": {"test": "datum.value % 24 == 0", "value": 17}, "value": 10},
                "labelFontSize": 17.5,
                "labelPadding": 7,
                "labelOverlap": false,
                "labelFlush": false,
                "grid": true
              }
            },
            "y": {
              "field": "v", "type": "quantitative",
              "scale": {"domain": [0, 5], "nice": false},
              "axis": {
                "title": "hC (kg/m² )",
                "titlePadding": 18,
                "values": [0,0.5,1,1.5,2,2.5,3,3.5,4,4.5,5],
                "labelExpr": "datum.value % 1 == 0 ? datum.label : ''",
                "tickSize": 12,
                "labelPadding": 7,
                "labelFontSize": 16.5,
                "labelOverlap": false,
                "labelFlush": false,
                "grid": true
              }
            },
            "color": {
              "datum": "Measures",
              "type": "nominal",
              "scale": {"domain": ["Measures", "Model results"], "range": ["#76695b", "#4a89cf"]},
              "legend": {
                "title": null,
                "orient": "none",
                "legendX": 261,
                "legendY": 16,
                "symbolType": "stroke",
                "symbolSize": 900,
                "labelFontSize": 18.5,
                "labelOffset": 24,
                "labelColor": "#222222",
                "rowPadding": 7,
                "encode": {"symbols": {"update": {"strokeWidth": {"signal": "datum.value === 'Measures' ? 2 : 4"}}}}
              }
            }
          }
        },
        {
          "data": {"name": "model"},
          "mark": {"type": "line", "strokeWidth": 4, "interpolate": "monotone"},
          "encoding": {
            "x": {"field": "t", "type": "quantitative"},
            "y": {"field": "v", "type": "quantitative"},
            "color": {"datum": "Model results", "type": "nominal"}
          }
        },
        {
          "data": {"values": [{}]},
          "mark": {"type": "rect", "fill": "white", "stroke": "#222222", "strokeWidth": 1},
          "encoding": {
            "x": {"datum": -27.5, "type": "quantitative"},
            "x2": {"datum": -17.6},
            "y": {"datum": 5.7, "type": "quantitative"},
            "y2": {"datum": 5.16}
          }
        },
        {
          "data": {"values": [{}]},
          "mark": {"type": "text", "fontSize": 20, "color": "#222222", "align": "center", "baseline": "middle"},
          "encoding": {
            "x": {"datum": -22.5, "type": "quantitative"},
            "y": {"datum": 5.43, "type": "quantitative"},
            "text": {"value": "b"}
          }
        }
      ]
    }
  ]
}
